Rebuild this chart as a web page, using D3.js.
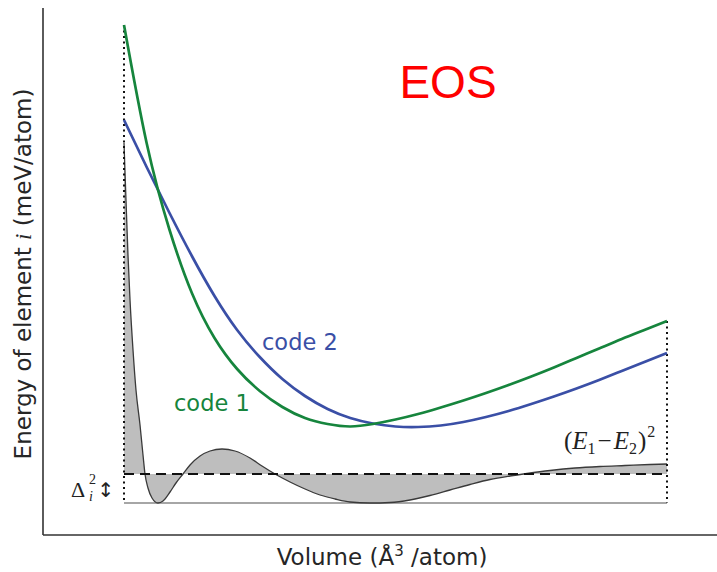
<!DOCTYPE html>
<html>
<head>
<meta charset="utf-8">
<script src="https://cdn.jsdelivr.net/npm/d3@7"></script>
<style>
  html, body { margin: 0; padding: 0; background: #fff; }
  svg { display: block; }
</style>
</head>
<body>
<svg id="chart" width="717" height="572"></svg>
<script>
// ---- data ----
const volume = [15, 15.5, 16, 16.5, 17, 17.5, 18, 18.5, 19, 19.5, 20, 20.5, 21,
                21.5, 22, 22.5, 23, 23.5, 24, 24.5, 25, 25.5, 26, 26.5, 27];
const code1 = [478, 360, 274, 210, 165, 134, 112, 96, 85, 79, 76.5, 79, 83.5,
               89, 95.5, 102.5, 110, 118, 126.5, 135.5, 145, 154.5, 164, 173, 182];
const code2 = [383, 336, 290.5, 247, 207, 173, 146, 124, 107, 94, 85, 79.5, 76.5,
               76, 77.5, 81, 86, 92, 99, 106.5, 114.5, 123, 132, 141, 150];
const errVolume = [15.000, 15.044, 15.088, 15.133, 15.199, 15.265, 15.354, 15.420, 15.464,
                   15.530, 15.619, 15.751, 15.862, 16.017, 16.149, 16.304, 16.459, 16.680,
                   16.901, 17.166, 17.453, 17.785, 18.050, 18.337, 18.669, 19.000, 19.331,
                   19.663, 19.994, 20.436, 20.878, 21.320, 21.762, 22.204, 22.646, 23.088,
                   23.530, 23.906, 24.414, 24.967, 25.519, 26.072, 26.624, 27.000];
const errValues = [360, 303, 248, 203, 153, 113, 78, 48, 29,
                   15, 5, 0, 2, 11, 20, 29, 38, 47,
                   52, 54, 52, 45, 37, 29, 21, 14, 8,
                   4, 1, 0, 0.5, 3, 7.5, 13, 18.5, 23.5,
                   27, 29.5, 32.5, 35, 36.5, 37.5, 38.5, 39];
const delta2 = 29;
const xLimits = [13.21, 28.105];
const yLimits = [-32, 495];
const seriesNames = ["code 1", "code 2"];
const titleText = "EOS";

// ---- layout ----
const svg = d3.select("#chart");
const frame = { left: 43, right: 717, top: 8, bottom: 535 };
const x = d3.scaleLinear().domain(xLimits).range([frame.left, frame.right]);
const y = d3.scaleLinear().domain(yLimits).range([frame.bottom, frame.top]);

const green = "#16853d";
const blue = "#3a4fa6";

const errData = errVolume.map((v, i) => ({ v, e: errValues[i] }));
const d1 = volume.map((v, i) => ({ v, e: code1[i] }));
const d2 = volume.map((v, i) => ({ v, e: code2[i] }));

// grey filled area between error curve and delta^2
const area = d3.area()
  .x(d => x(d.v)).y0(y(delta2)).y1(d => y(d.e))
  .curve(d3.curveMonotoneX);
svg.append("path").datum(errData).attr("d", area)
  .attr("fill", "#bebebe").attr("stroke", "none");

// zero baseline
const vMin = d3.min(volume), vMax = d3.max(volume);
svg.append("line")
  .attr("x1", x(vMin)).attr("x2", x(vMax))
  .attr("y1", y(0)).attr("y2", y(0))
  .attr("stroke", "#a6a6a6").attr("stroke-width", 2);

// error curve line
const errLine = d3.line().x(d => x(d.v)).y(d => y(d.e)).curve(d3.curveMonotoneX);
svg.append("path").datum(errData).attr("d", errLine)
  .attr("fill", "none").attr("stroke", "#3a3a3a").attr("stroke-width", 1.3);

// dashed delta^2 line
svg.append("line")
  .attr("x1", x(vMin)).attr("x2", x(vMax))
  .attr("y1", y(delta2)).attr("y2", y(delta2))
  .attr("stroke", "#111").attr("stroke-width", 2)
  .attr("stroke-dasharray", "10,6");

// dotted verticals
svg.append("line")
  .attr("x1", x(vMin)).attr("x2", x(vMin))
  .attr("y1", y(code1[0])).attr("y2", y(0))
  .attr("stroke", "#111").attr("stroke-width", 2)
  .attr("stroke-dasharray", "2,3.5");
svg.append("line")
  .attr("x1", x(vMax)).attr("x2", x(vMax))
  .attr("y1", y(code1[code1.length - 1])).attr("y2", y(0))
  .attr("stroke", "#111").attr("stroke-width", 2)
  .attr("stroke-dasharray", "2,3.5");

// curves
const line = d3.line().x(d => x(d.v)).y(d => y(d.e)).curve(d3.curveNatural);
svg.append("path").datum(d2).attr("d", line)
  .attr("fill", "none").attr("stroke", blue).attr("stroke-width", 2.7);
svg.append("path").datum(d1).attr("d", line)
  .attr("fill", "none").attr("stroke", green).attr("stroke-width", 2.7);

// axes frame (left + bottom only, no ticks)
svg.append("line")
  .attr("x1", frame.left).attr("x2", frame.left)
  .attr("y1", frame.top).attr("y2", frame.bottom)
  .attr("stroke", "#333").attr("stroke-width", 1.6);
svg.append("line")
  .attr("x1", frame.left).attr("x2", frame.right)
  .attr("y1", frame.bottom).attr("y2", frame.bottom)
  .attr("stroke", "#333").attr("stroke-width", 1.6);

// ---- text ----
const sans = "'DejaVu Sans', sans-serif";
const serif = "'Liberation Serif', 'DejaVu Serif', serif";

// x label
const xl = svg.append("text")
  .attr("x", 382).attr("y", 565)
  .attr("text-anchor", "middle")
  .attr("font-family", sans).attr("font-size", 23).attr("fill", "#262626");
xl.append("tspan").text("Volume (Å");
xl.append("tspan").attr("font-size", 15).attr("dy", -9).text("3");
xl.append("tspan").attr("dy", 9).text(" /atom)");

// y label
const yl = svg.append("text")
  .attr("transform", "translate(31,274) rotate(-90)")
  .attr("text-anchor", "middle")
  .attr("font-family", sans).attr("font-size", 23).attr("fill", "#262626");
yl.append("tspan").text("Energy of element ");
yl.append("tspan").attr("font-family", serif).attr("font-style", "italic").text("i");
yl.append("tspan").text(" (meV/atom)");

// title
svg.append("text")
  .attr("x", 448).attr("y", 98)
  .attr("text-anchor", "middle")
  .attr("font-family", "'Liberation Sans', Arial, sans-serif")
  .attr("font-size", 46).attr("fill", "#ff0000")
  .text(titleText);

// series labels
svg.append("text")
  .attr("x", 262).attr("y", 350)
  .attr("font-family", sans).attr("font-size", 22.5).attr("fill", blue)
  .text(seriesNames[1]);
svg.append("text")
  .attr("x", 174).attr("y", 411)
  .attr("font-family", sans).attr("font-size", 22.5).attr("fill", green)
  .text(seriesNames[0]);

// (E1 - E2)^2 label
const el = svg.append("text")
  .attr("x", 564).attr("y", 449)
  .attr("font-family", serif).attr("font-size", 25).attr("fill", "#222");
el.append("tspan").text("(");
el.append("tspan").attr("font-style", "italic").text("E");
el.append("tspan").attr("font-size", 16).attr("dy", 5).text("1");
el.append("tspan").attr("dy", -5).attr("dx", 2).text("\u2212");
el.append("tspan").attr("font-style", "italic").attr("dx", 2).text("E");
el.append("tspan").attr("font-size", 16).attr("dy", 5).text("2");
el.append("tspan").attr("dy", -5).attr("dx", 1).text(")");
el.append("tspan").attr("font-size", 16).attr("dy", -12).attr("dx", 1).text("2");

// Delta_i^2 label
svg.append("text")
  .attr("x", 71).attr("y", 497)
  .attr("font-family", serif).attr("font-size", 22).attr("fill", "#222")
  .text("\u0394");
svg.append("text")
  .attr("x", 89).attr("y", 484)
  .attr("font-family", serif).attr("font-size", 14).attr("fill", "#222")
  .text("2");
svg.append("text")
  .attr("x", 89).attr("y", 501)
  .attr("font-family", serif).attr("font-style", "italic").attr("font-size", 14).attr("fill", "#222")
  .text("i");
svg.append("text")
  .attr("x", 106).attr("y", 497)
  .attr("text-anchor", "middle")
  .attr("font-family", sans).attr("font-size", 20).attr("fill", "#222")
  .text("\u2195");
</script>
</body>
</html>
